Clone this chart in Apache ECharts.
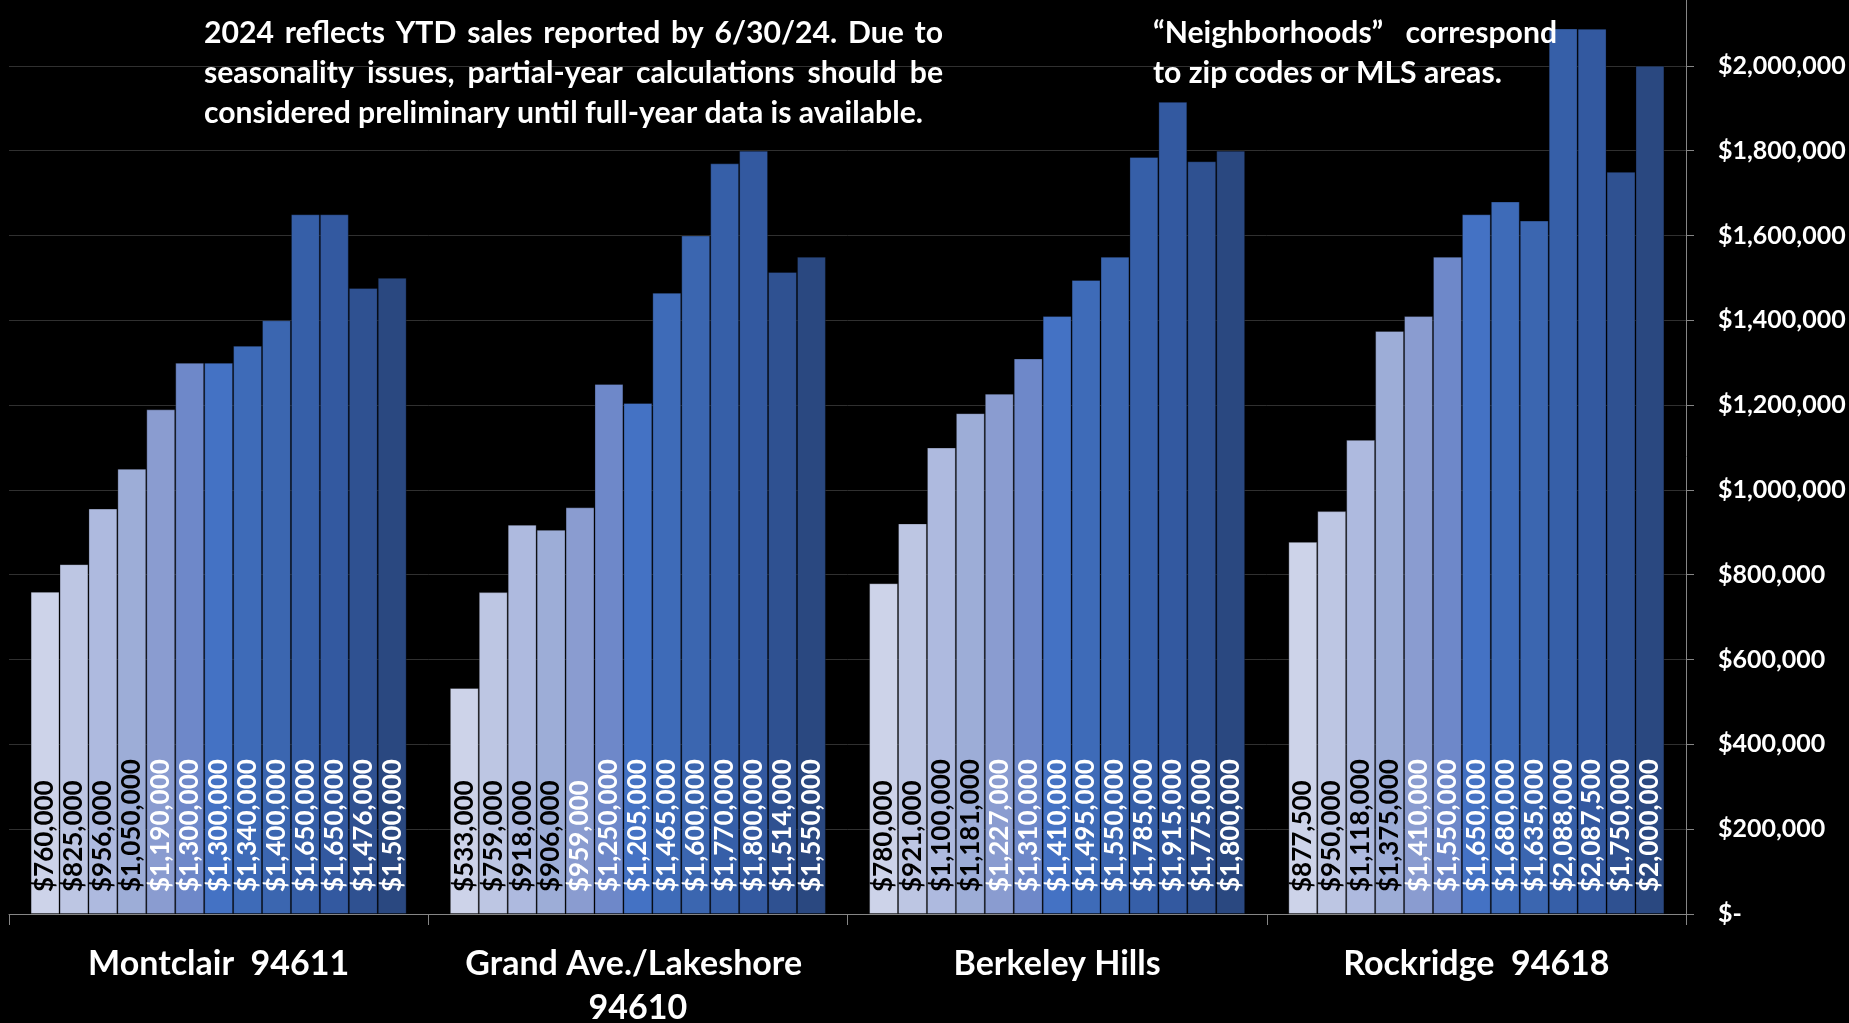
<!DOCTYPE html>
<html><head><meta charset="utf-8">
<script src="https://cdn.jsdelivr.net/npm/echarts@6/dist/echarts.min.js"></script>
<style>html,body{margin:0;padding:0;background:#000;overflow:hidden}#c{width:1849px;height:1023px}</style>
</head><body><div id="c"></div>
<script>
// ---- data ----
const neighborhoods = ['Montclair  94611', 'Grand Ave./Lakeshore 94610', 'Berkeley Hills', 'Rockridge  94618'];
const years = ['2012','2013','2014','2015','2016','2017','2018','2019','2020','2021','2022','2023','2024'];
const montclair    = [760000, 825000, 956000, 1050000, 1190000, 1300000, 1300000, 1340000, 1400000, 1650000, 1650000, 1476000, 1500000];
const grandAve     = [533000, 759000, 918000, 906000, 959000, 1250000, 1205000, 1465000, 1600000, 1770000, 1800000, 1514000, 1550000];
const berkeleyHills= [780000, 921000, 1100000, 1181000, 1227000, 1310000, 1410000, 1495000, 1550000, 1785000, 1915000, 1775000, 1800000];
const rockridge    = [877500, 950000, 1118000, 1375000, 1410000, 1550000, 1650000, 1680000, 1635000, 2088000, 2087500, 1750000, 2000000];
const yTickValues  = [0, 200000, 400000, 600000, 800000, 1000000, 1200000, 1400000, 1600000, 1800000, 2000000];
const note1Lines = ['2024 reflects YTD sales reported by 6/30/24. Due to',
                    'seasonality issues, partial-year calculations should be',
                    'considered preliminary until full-year data is available.'];
const note2Lines = ['\u201CNeighborhoods\u201D correspond', 'to zip codes or MLS areas.'];

// ---- style ----
const colors = ['#CDD3E9','#BDC6E3','#AEBADF','#9DADD7','#8A9CD0','#6E88C9','#4472C4','#3E6BB8','#3B66B0','#365FA8','#3359A0','#2F5191','#2A4880'];
const FONT = 'Lato';
const byArea = [montclair, grandAve, berkeleyHills, rockridge];

function money(v) {
  if (v === 0) return '$-';
  return '$' + String(v).replace(/\B(?=(\d{3})+(?!\d))/g, ',');
}

const series = years.map((y, i) => ({
  name: y,
  type: 'bar',
  barGap: '0%',
  barCategoryGap: '10.3%',
  data: byArea.map(a => a[i]),
  itemStyle: { color: colors[i], borderColor: 'rgba(0,0,0,0.3)', borderWidth: 1 },
  label: {
    show: true, position: 'insideBottom', rotate: 90, align: 'left', verticalAlign: 'middle',
    distance: 22, color: i < 4 ? '#000' : '#fff', fontFamily: FONT, fontWeight: 'bold', fontSize: 26,
    formatter: p => money(p.value)
  }
}));

// justified annotation text
const ctx = document.createElement('canvas').getContext('2d');
function measure(t, size) { ctx.font = 'bold ' + size + 'px ' + FONT; return ctx.measureText(t).width; }
function justifiedLines(lines, x0, x1, yStart, lh, size, justifyCount) {
  const els = [];
  lines.forEach((line, li) => {
    const y = yStart + li * lh;
    const words = line.split(' ');
    if (li < justifyCount && words.length > 1) {
      const ws = words.map(w => measure(w, size));
      const total = ws.reduce((a, b) => a + b, 0);
      const gap = (x1 - x0 - total) / (words.length - 1);
      let x = x0;
      words.forEach((w, wi) => {
        els.push({ type: 'text', x: x, y: y, z: 100, style: { text: w, fill: '#fff', font: 'bold ' + size + 'px ' + FONT, verticalAlign: 'middle', align: 'left' } });
        x += ws[wi] + gap;
      });
    } else {
      els.push({ type: 'text', x: x0, y: y, z: 100, style: { text: line, fill: '#fff', font: 'bold ' + size + 'px ' + FONT, verticalAlign: 'middle', align: 'left' } });
    }
  });
  return els;
}
const s1 = 719 / measure(note1Lines[2], 1);
const s2 = 349 / measure(note2Lines[1], 1);
const graphics = [].concat(
  justifiedLines(note1Lines, 204, 943, 33, 40, s1, 2),
  justifiedLines(note2Lines, 1153, 1557, 33, 40, s2, 1)
);

const chart = echarts.init(document.getElementById('c'), null, { renderer: 'canvas' });
chart.setOption({
  backgroundColor: '#000',
  animation: false,
  grid: { left: 9, right: 163, top: -19, bottom: 109, containLabel: false, outerBoundsMode: 'none' },
  xAxis: {
    type: 'category', data: neighborhoods,
    axisLine: { lineStyle: { color: '#868686', width: 1 } },
    axisTick: { show: true, length: 11, lineStyle: { color: '#868686' } },
    axisLabel: { color: '#fff', fontFamily: FONT, fontWeight: 'bold', fontSize: 34, lineHeight: 44, margin: 28, width: 410, overflow: 'break', interval: 0 },
    splitLine: { show: false }
  },
  yAxis: {
    type: 'value', position: 'right', min: 0, max: 2200000, interval: 200000,
    axisLine: { show: true, lineStyle: { color: '#868686' } },
    axisTick: { show: true, length: 8, lineStyle: { color: '#868686' } },
    splitLine: { show: true, lineStyle: { color: '#303030' } },
    axisLabel: {
      color: '#fff', fontFamily: FONT, fontWeight: 'bold', fontSize: 25, margin: 32,
      formatter: v => (yTickValues.indexOf(v) >= 0 ? money(v) : '')
    }
  },
  series: series,
  graphic: graphics
});
</script></body></html>
